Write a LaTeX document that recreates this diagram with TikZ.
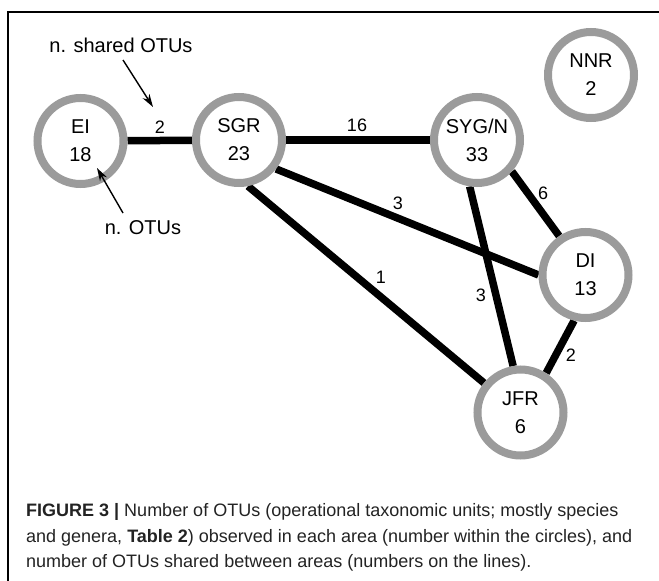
\documentclass[tikz,border=0pt]{standalone}
\usepackage{fontspec}
\setmainfont{Liberation Sans}
\newfontfamily\capfont{Liberation Sans}
\usetikzlibrary{arrows.meta}
\definecolor{ringgray}{RGB}{155,155,155}
\definecolor{captext}{RGB}{35,35,35}
\pgfdeclarelayer{bg}
\pgfsetlayers{bg,main}
\begin{document}
\begin{tikzpicture}[x=1pt,y=-1pt,
  area/.style={circle,draw=ringgray,line width=8pt,minimum size=86pt,inner sep=0pt,fill=white,align=center,font=\fontsize{20}{28}\selectfont},
  link/.style={line width=7.5pt,black},
  lab/.style={font=\fontsize{18}{20}\selectfont,inner sep=0pt},
  note/.style={font=\fontsize{20}{24}\selectfont,inner sep=0pt},
  capline/.style={anchor=base west,inner sep=0pt,text=captext,font=\capfont\fontsize{18}{26}\selectfont},
  pointer/.style={line width=1.4pt,-{Stealth[length=13pt,width=8pt]}}]
\useasboundingbox (0,0) rectangle (659,581);
\begin{pgfonlayer}{bg}
\fill[white] (0,0) rectangle (659,581);
\end{pgfonlayer}
\draw[line width=1.2pt] (8,581) -- (8,12) -- (659,12);

\node[area] (ei) at (80.5,141) {EI\\18};
\node[area] (sgr) at (239,140) {SGR\\23};
\node[area] (syg) at (477,140) {SYG/N\\33};
\node[area] (nnr) at (591,75) {NNR\\2};
\node[area] (di) at (585.5,275) {DI\\13};
\node[area] (jfr) at (520.5,412.5) {JFR\\6};

\begin{pgfonlayer}{bg}
\draw[link] (ei) -- (sgr);
\draw[link] (sgr) -- (syg);
\draw[link] (sgr.-38) -- (di.180);
\draw[link] (sgr.-79) -- (jfr.141);
\draw[link] (syg.-99) -- (jfr.99);
\draw[link] (syg.-42) -- (di.124);
\draw[link] (di.-104) -- (jfr.57);
\end{pgfonlayer}

\node[lab] (l1) at (160,127) {2};
\node[lab] (l2) at (357,125) {16};
\node[lab] (l3) at (398,203) {3};
\node[lab] (l4) at (381,277) {1};
\node[lab] (l5) at (481,295) {3};
\node[lab] (l6) at (543,193) {6};
\node[lab] (l7) at (571,355) {2};

\node[note] (sharedtxt) at (121,45) {n. shared OTUs};
\node[note] (otustxt) at (143,228) {n. OTUs};
\coordinate (sharedtail) at (123,60);
\coordinate (sharedtip) at (153,107);
\coordinate (otustail) at (123,213);
\coordinate (otustip) at (97,168);
\draw[pointer] (sharedtail) -- (sharedtip);
\draw[pointer] (otustail) -- (otustip);

\node[capline] (cap1) at (26,516) {\textbf{FIGURE 3 |} Number of OTUs (operational taxonomic units; mostly species};
\node[capline] (cap2) at (26,542) {and genera, \textbf{Table 2}) observed in each area (number within the circles), and};
\node[capline] (cap3) at (26,567.5) {number of OTUs shared between areas (numbers on the lines).};
\end{tikzpicture}
\end{document}
